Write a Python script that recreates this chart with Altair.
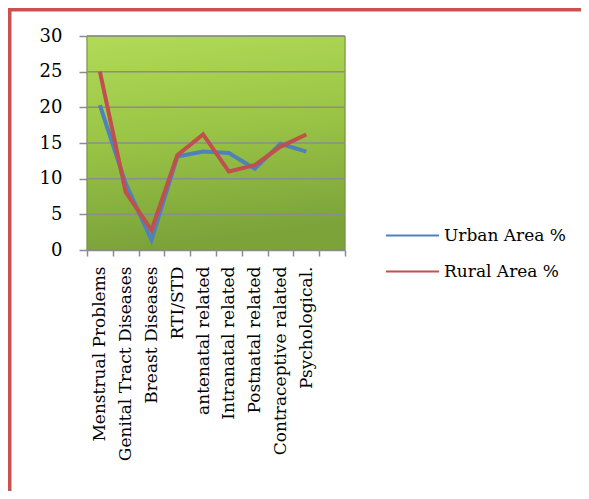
import altair as alt
import pandas as pd

categories = ["Menstrual Problems", "Genital Tract Diseases", "Breast Diseases", "RTI/STD",
              "antenatal related", "Intranatal related", "Postnatal related",
              "Contraceptive ralated", "Psychological."]
urban = [20.3, 9.3, 1.4, 13.1, 13.8, 13.6, 11.4, 14.9, 13.8]
rural = [25.0, 8.1, 2.8, 13.3, 16.2, 11.0, 11.9, 14.5, 16.2]
series_names = ["Urban Area %", "Rural Area %"]
series_colors = ["#4f81bd", "#c0504d"]
y_ticks = [0, 5, 10, 15, 20, 25, 30]

rows = []
for name, vals in zip(series_names, [urban, rural]):
    for c, v in zip(categories, vals):
        rows.append({"category": c, "value": v, "series": name})
df = pd.DataFrame(rows)

x_domain = categories + [" "]
W, H = 258, 214
FONT = "DejaVu Serif"

xscale = alt.Scale(domain=x_domain, paddingInner=0, paddingOuter=0)
yscale = alt.Scale(domain=[0, 30], nice=False)
yaxis = alt.Axis(title=None, values=y_ticks, grid=False, labelFont=FONT,
                 labelFontSize=18, labelColor="#000", tickSize=8,
                 tickColor="#8c8c8c", tickWidth=1.5, domainColor="#8c8c8c",
                 domainWidth=1.5, labelPadding=17)

background = alt.Chart(pd.DataFrame({"a": [0]})).mark_rect(
    fill=alt.Gradient(
        gradient="linear", x1=0, y1=0, x2=0.15, y2=1,
        stops=[alt.GradientStop(color="#b2da58", offset=0),
               alt.GradientStop(color="#99c445", offset=0.5),
               alt.GradientStop(color="#7ba33a", offset=1)]),
    stroke="#6e9234", strokeWidth=1
).encode(x=alt.value(0), x2=alt.value(W), y=alt.value(0), y2=alt.value(H))

grid = alt.Chart(pd.DataFrame({"v": y_ticks})).mark_rule(
    color="#8c8c8c", strokeWidth=1.5
).encode(y=alt.Y("v:Q", scale=yscale, axis=yaxis))

lines = alt.Chart(df).mark_line(strokeWidth=4).encode(
    x=alt.X("category:N", scale=xscale, sort=x_domain,
            axis=alt.Axis(title=None, labelAngle=-90, labelAlign="right",
                          labelBaseline="middle", labelFont=FONT, labelFontSize=17,
                          labelColor="#000", labelPadding=10, tickBand="extent",
                          tickSize=6, tickColor="#8c8c8c", domainColor="#8c8c8c",
                          domainWidth=1.5, tickWidth=1.5, labelLimit=300)),
    y=alt.Y("value:Q", scale=yscale, axis=yaxis),
    color=alt.Color("series:N", scale=alt.Scale(domain=series_names, range=series_colors),
                    sort=series_names,
                    legend=alt.Legend(title=None, orient="none", legendX=298, legendY=172,
                                      symbolType="stroke", symbolSize=2809,
                                      symbolStrokeWidth=2, labelFont=FONT,
                                      labelFontSize=17, labelColor="#000",
                                      labelOffset=4, padding=0, rowPadding=-13)),
    order=alt.Order("series:N", sort="descending"),
)

frame_left = alt.Chart(pd.DataFrame({"a": [0]})).mark_rule(
    color="#c9514e", strokeWidth=5
).encode(x=alt.value(-78), y=alt.value(-30), y2=alt.value(460))
frame_top = alt.Chart(pd.DataFrame({"a": [0]})).mark_rule(
    color="#c9514e", strokeWidth=5
).encode(y=alt.value(-27), x=alt.value(-80), x2=alt.value(520))

chart = alt.layer(background, grid, lines, frame_left, frame_top).properties(
    width=W, height=H,
    autosize=alt.AutoSizeParams(type="none"),
    padding={"left": 79, "top": 28, "right": 236, "bottom": 241},
).configure_view(stroke=None).configure(background="white")

chart.save("out.html", embed_options={"renderer": "svg", "actions": False})
